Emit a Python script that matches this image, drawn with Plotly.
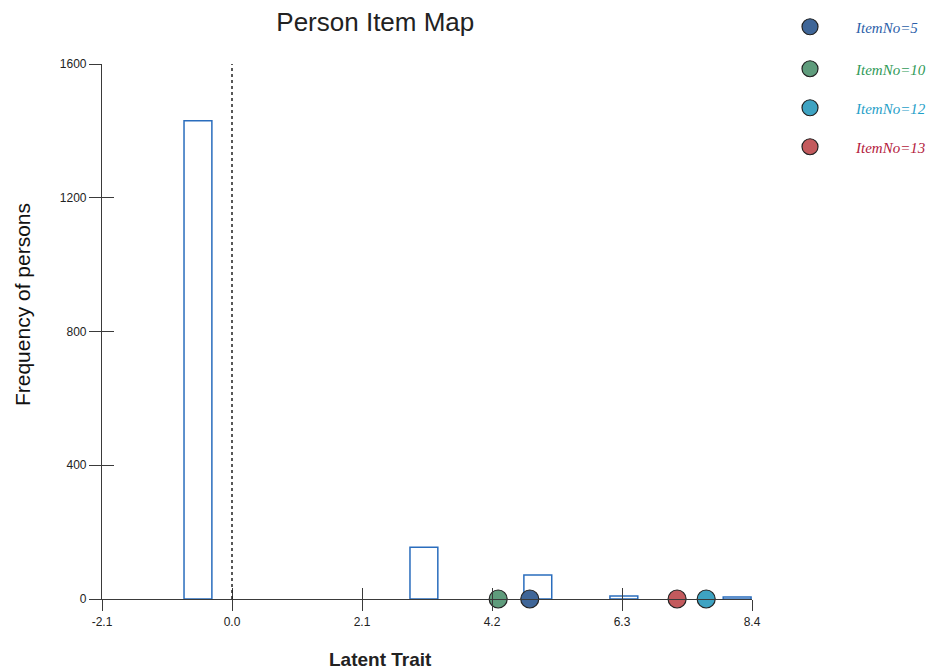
import plotly.graph_objects as go

# ---- data ----
bin_centers = [-0.55, 3.10, 4.94, 6.33, 8.16]
bin_counts = [1430, 155, 72, 9, 6]
bin_width = 0.45

item_names = ["ItemNo=5", "ItemNo=10", "ItemNo=12", "ItemNo=13"]
item_locations = [4.81, 4.30, 7.66, 7.19]
item_colors = ["#3f6698", "#5f9c7c", "#3ea3c2", "#c35a5d"]
item_text_colors = ["#2b5ea8", "#2f9a58", "#1fa0c8", "#b3193c"]

x_tick_vals = [-2.1, 0.0, 2.1, 4.2, 6.3, 8.4]
x_tick_text = ["-2.1", "0.0", "2.1", "4.2", "6.3", "8.4"]
y_tick_vals = [0, 400, 800, 1200, 1600]
x_range = [-2.1, 8.4]
y_range = [0, 1600]
ref_line_x = 0.0

fig = go.Figure()

fig.add_trace(go.Bar(
    x=bin_centers, y=bin_counts, width=bin_width,
    marker=dict(color="white", line=dict(color="#2a6dbd", width=1.5)),
    showlegend=False, hoverinfo="x+y",
))

legend_ids = ["legend", "legend2", "legend3", "legend4"]
for name, loc, col, lid in zip(item_names, item_locations, item_colors, legend_ids):
    fig.add_trace(go.Scatter(
        x=[loc], y=[0], mode="markers", name="<i>" + name + "</i>",
        marker=dict(size=18, color=col, line=dict(color="#222222", width=1.2)),
        cliponaxis=False, legend=lid,
    ))

# invisible helper trace so the overlay axes (crossing ticks) are drawn
fig.add_trace(go.Scatter(x=bin_centers, y=bin_counts, mode="none",
                         xaxis="x2", yaxis="y2", showlegend=False, hoverinfo="skip"))

fig.add_vline(x=ref_line_x, line=dict(color="#222222", width=1.5, dash="dot"))

axis_col = "#3a3a3a"
tickfont = dict(family="Liberation Sans, Arial", size=12, color="#222222")

legend_y = [0.9597, 0.897, 0.8388, 0.7806]
legend_layouts = {}
for lid, ly, tc in zip(legend_ids, legend_y, item_text_colors):
    legend_layouts[lid] = dict(
        x=0.8224, y=ly, xref="container", yref="container",
        xanchor="left", yanchor="middle",
        font=dict(family="Liberation Serif, Times New Roman", size=15, color=tc),
        itemwidth=82, bgcolor="rgba(0,0,0,0)", borderwidth=0,
    )

fig.update_layout(
    width=929, height=670,
    margin=dict(l=102, r=177, t=64, b=71, autoexpand=False),
    paper_bgcolor="white", plot_bgcolor="white",
    title=dict(text="Person Item Map", x=0.404, xanchor="center", y=0.967, yanchor="middle",
               xref="container", yref="container",
               font=dict(family="Liberation Sans, Arial", size=26, color="#222222")),
    xaxis=dict(range=x_range, tickvals=x_tick_vals, ticktext=x_tick_text,
               showgrid=False, zeroline=False, showline=True, linecolor=axis_col, linewidth=1.2,
               ticks="outside", ticklen=11, tickwidth=1.2, tickcolor=axis_col,
               tickfont=tickfont),
    yaxis=dict(range=y_range, tickvals=y_tick_vals,
               showgrid=False, zeroline=False, showline=True, linecolor=axis_col, linewidth=1.2,
               ticks="outside", ticklen=12, tickwidth=1.2, tickcolor=axis_col,
               tickfont=tickfont),
    xaxis2=dict(range=x_range, tickvals=x_tick_vals, overlaying="x", anchor="y",
                side="bottom", showticklabels=False, showgrid=False, zeroline=False,
                showline=False, ticks="inside", ticklen=11, tickwidth=1.2, tickcolor=axis_col),
    yaxis2=dict(range=y_range, tickvals=y_tick_vals, overlaying="y", anchor="x",
                side="left", showticklabels=False, showgrid=False, zeroline=False,
                showline=False, ticks="inside", ticklen=12, tickwidth=1.2, tickcolor=axis_col),
    annotations=[
        dict(text="Frequency of persons", textangle=-90, xref="paper", yref="paper",
             x=-0.123, y=0.5495, xanchor="center", yanchor="middle", showarrow=False,
             font=dict(family="Liberation Sans, Arial", size=21, color="#111111")),
        dict(text="<b>Latent Trait</b>", xref="paper", yref="paper",
             x=0.4277, y=-0.114, xanchor="center", yanchor="middle", showarrow=False,
             font=dict(family="Liberation Sans, Arial", size=19, color="#222222")),
    ],
    **legend_layouts,
)

fig.write_html("out.html")
